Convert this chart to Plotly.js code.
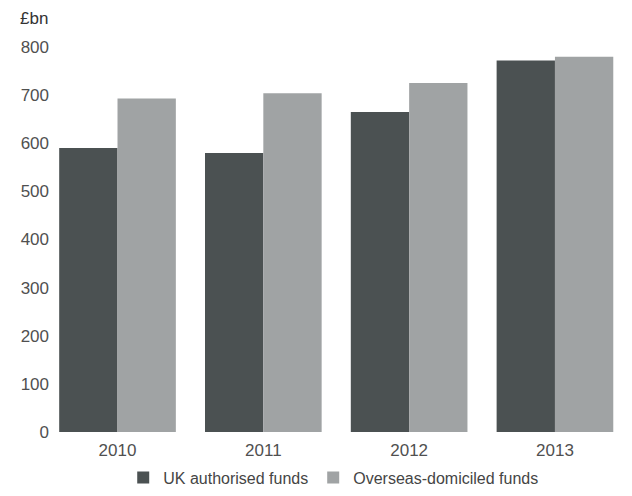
<!DOCTYPE html>
<html>
<head>
<meta charset="utf-8">
<script src="https://cdn.plot.ly/plotly-3.0.1.min.js"></script>
<style>
  html, body { margin: 0; padding: 0; background: #ffffff; }
  #chart { width: 632px; height: 496px; }
</style>
</head>
<body>
<div id="chart"></div>
<script>
// Fund assets by domicile, £bn
const years = ['2010', '2011', '2012', '2013'];
const ukAuthorised = [590, 580, 665, 772];
const overseasDomiciled = [693, 704, 725, 780];
const seriesNames = ['UK authorised funds', 'Overseas-domiciled funds'];
const yTicks = [0, 100, 200, 300, 400, 500, 600, 700, 800];

const fontFamily = '"Liberation Sans", Arial, Helvetica, sans-serif';
const tickColor = '#505050';

const traces = [
  {
    type: 'bar',
    name: seriesNames[0],
    x: years,
    y: ukAuthorised,
    marker: { color: '#4b5152', line: { width: 0 } },
    hoverinfo: 'x+y+name'
  },
  {
    type: 'bar',
    name: seriesNames[1],
    x: years,
    y: overseasDomiciled,
    marker: { color: '#a0a3a4', line: { width: 0 } },
    hoverinfo: 'x+y+name'
  }
];

const layout = {
  width: 632,
  height: 496,
  // fixed plot box; the legend sits in the bottom margin without resizing it
  margin: { l: 50, r: 4, t: 47, b: 64, autoexpand: false },
  paper_bgcolor: '#ffffff',
  plot_bgcolor: '#ffffff',
  font: { family: fontFamily, size: 17, color: tickColor },
  barmode: 'group',
  bargap: 0.2,
  bargroupgap: 0,
  showlegend: true,
  legend: {
    orientation: 'h',
    x: 0.49,
    xanchor: 'center',
    y: -0.074,
    yanchor: 'top',
    font: { family: fontFamily, size: 16, color: '#454545' },
    itemwidth: 30,
    bgcolor: 'rgba(0,0,0,0)'
  },
  xaxis: {
    type: 'category',
    range: [-0.463, 3.501],
    automargin: false,
    showline: false,
    showgrid: false,
    zeroline: false,
    ticks: '',
    tickfont: { family: fontFamily, size: 17, color: tickColor },
    ticklabelstandoff: 6
  },
  yaxis: {
    range: [0, 800],
    automargin: false,
    tickvals: yTicks,
    ticktext: yTicks.map(String),
    showline: false,
    showgrid: false,
    zeroline: false,
    ticks: '',
    tickfont: { family: fontFamily, size: 17, color: tickColor }
  },
  annotations: [
    {
      text: '£bn',
      xref: 'paper', yref: 'paper',
      x: 0, y: 1,
      xanchor: 'left', yanchor: 'middle',
      xshift: -32, yshift: 29,
      showarrow: false,
      font: { family: fontFamily, size: 17, color: '#333333' }
    }
  ]
};

Plotly.newPlot('chart', traces, layout, { displayModeBar: false, staticPlot: true });
</script>
</body>
</html>
